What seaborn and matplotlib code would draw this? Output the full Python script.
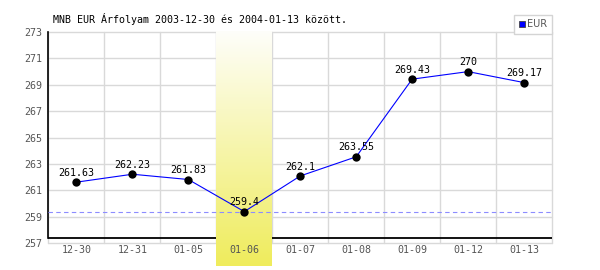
import numpy as np
import pandas as pd
import matplotlib
matplotlib.use("Agg")
import matplotlib.pyplot as plt
from matplotlib.lines import Line2D
from matplotlib.colors import LinearSegmentedColormap
import seaborn as sns

categories = ["12-30", "12-31", "01-05", "01-06", "01-07", "01-08", "01-09", "01-12", "01-13"]
values = [261.63, 262.23, 261.83, 259.4, 262.1, 263.55, 269.43, 270, 269.17]
labels = ["261.63", "262.23", "261.83", "259.4", "262.1", "263.55", "269.43", "270", "269.17"]
y_ticks = [257, 259, 261, 263, 265, 267, 269, 271, 273]
highlight_index = 3
reference_value = 259.4
title = "MNB EUR Árfolyam 2003-12-30 és 2004-01-13 között."
series_name = "EUR"

sns.set_theme(style="white")
plt.rcParams["font.family"] = ["DejaVu Sans Mono"]

df = pd.DataFrame({"pos": np.arange(len(categories)), "value": values})

fig = plt.figure(figsize=(6, 2.7), dpi=100)
W, H = 600, 270
left, right, top, bottom = 48.5, 552, 32, 243.3
ax = fig.add_axes([left / W, 1 - bottom / H, (right - left) / W, (bottom - top) / H])

ax.set_xlim(-0.5, len(categories) - 0.5)
ax.set_ylim(257, 273)
ax.set_yticks(y_ticks)
ax.set_xticks(df["pos"])
ax.grid(False)
ax.set_axisbelow(False)
ax.xaxis.set_zorder(8)
ax.yaxis.set_zorder(8)

# grid lines drawn beneath everything
grid_kw = dict(color="#d9d9d9", linewidth=1.0, zorder=0, clip_on=False)
for yv in y_ticks:
    ax.axhline(yv, **grid_kw)
for xv in np.arange(len(categories) + 1) - 0.5:
    ax.axvline(xv, **grid_kw)

for s in ["top", "right", "bottom"]:
    ax.spines[s].set_visible(False)
axis_base = 257.38
ax.spines["left"].set_color("black")
ax.spines["left"].set_linewidth(1.2)
ax.spines["left"].set_bounds(axis_base, 273)
ax.spines["left"].set_zorder(1)
ax.axhline(axis_base, color="black", linewidth=1.3, zorder=1)

# highlight band with gradient
band_bottom = 257 - (266.5 - bottom) / ((bottom - top) / 16)
cmap = LinearSegmentedColormap.from_list("band", ["#fefefa", "#efec5c"])
grad = np.linspace(0, 1, 256).reshape(-1, 1)
ax.imshow(grad, cmap=cmap, aspect="auto", origin="upper",
          extent=(highlight_index - 0.5, highlight_index + 0.5, band_bottom, 273),
          zorder=2, clip_on=False, interpolation="bilinear")
ax.set_xlim(-0.5, len(categories) - 0.5)
ax.set_ylim(257, 273)

# reference dashed line
ax.axhline(reference_value, color="#8c8cff", linewidth=0.8, linestyle=(0, (4, 3)), zorder=3)

# series
sns.lineplot(data=df, x="pos", y="value", ax=ax, color="#0000ff", linewidth=0.8,
             zorder=4, legend=False)
sns.scatterplot(data=df, x="pos", y="value", ax=ax, color="black", s=36,
                edgecolor="black", linewidth=0, zorder=5, legend=False)
for x, y, t in zip(df["pos"], df["value"], labels):
    ax.annotate(t, (x, y), xytext=(0, 4.6), textcoords="offset points",
                ha="center", va="baseline", fontsize=7.2, color="black", zorder=6)

ax.set_xlabel("")
ax.set_ylabel("")
ax.set_xticklabels(categories)
ax.tick_params(axis="x", which="both", length=0, pad=1.5, labelsize=7.2, labelcolor="#555555")
ax.tick_params(axis="y", length=0, pad=4.5, labelsize=7.2, labelcolor="#555555")

fig.text(53 / W, 1 - 19 / H, title, fontsize=7.2, color="black", va="center", ha="left")

handle = Line2D([], [], marker="s", linestyle="none", markersize=5,
                markerfacecolor="#0000ff", markeredgecolor="#444444", markeredgewidth=0.6)
leg = ax.legend([handle], [series_name], loc="upper right",
                bbox_to_anchor=(552 / W, 1 - 15 / H), bbox_transform=fig.transFigure,
                borderaxespad=0, fancybox=False, frameon=True, framealpha=1,
                edgecolor="#d4d4d4", handlelength=0.6, handletextpad=0.3,
                borderpad=0.45, prop={"family": "DejaVu Sans", "size": 7})
leg.get_frame().set_linewidth(1.0)
for t in leg.get_texts():
    t.set_color("#555555")
leg.set_zorder(10)

fig.savefig("out.png", dpi=100)
